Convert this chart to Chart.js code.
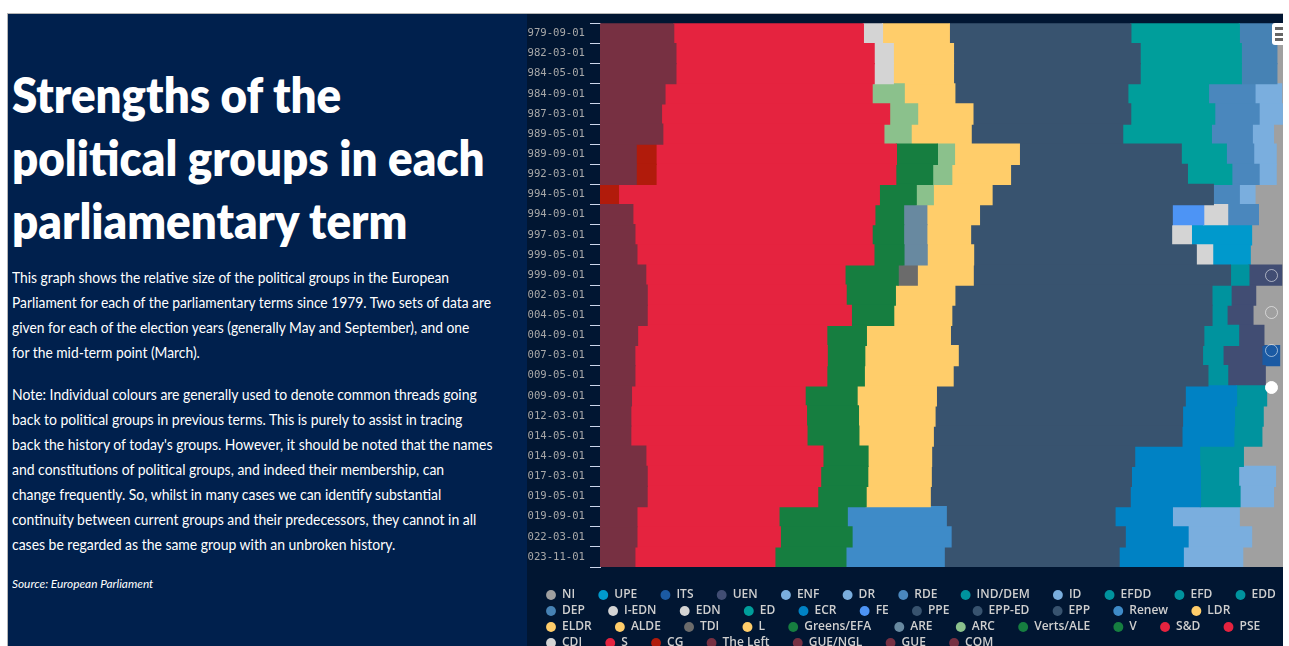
<!DOCTYPE html>
<html>
<head>
<meta charset="utf-8">
<title>Strengths of the political groups in each parliamentary term</title>
<script src="https://cdn.jsdelivr.net/npm/chart.js@4.4.1/dist/chart.umd.min.js"></script>
<style>
  html, body { margin: 0; padding: 0; }
  body { width: 1289px; height: 646px; overflow: hidden; position: relative; background: #fff; }
  #panel { position: absolute; left: 7px; top: 13px; width: 519px; height: 640px;
           background: #00204d; border-left: 1px solid #b5b5b5; border-top: 1px solid #b5b5b5; }
  #chartbox { position: absolute; left: 527px; top: 13px; width: 756px; height: 645px;
              background: #011632; border-top: 1px solid #b5b5b5; }
  #chartbox canvas { position: absolute; left: 0; top: -2px; }
  .txt { position: absolute; left: 12px; color: #fff; white-space: nowrap; transform-origin: 0 0;
         font-family: Lato, "Liberation Sans", sans-serif; }
  #title { top: 63px; font-size: 49px; font-weight: 800; line-height: 63px; }
  .body { font-size: 15px; line-height: 25px; }
  #p1 { top: 265px; }
  #p2 { top: 382px; }
  #source { top: 576px; font-size: 12px; line-height: 16px; font-style: italic; }
  #menu { position: absolute; left: 1272px; top: 23px; width: 11px; height: 22px; background: #fff; border-radius: 3px 0 0 3px; }
  #menu i { position: absolute; left: 3px; width: 8px; height: 3px; background: #666; }
  .dot { position: absolute; left: 1265px; width: 11px; height: 11px; border-radius: 50%;
         border: 1.5px solid rgba(255,255,255,0.55); }
  .dot.on { background: #fff; border-color: #fff; }
</style>
</head>
<body>
<div id="panel"></div>
<div class="txt" id="title" data-w="473">Strengths of the<br>political groups in each<br>parliamentary term</div>
<div class="txt body" id="p1" data-w="479">This graph shows the relative size of the political groups in the European<br>Parliament for each of the parliamentary terms since 1979. Two sets of data are<br>given for each of the election years (generally May and September), and one<br>for the mid-term point (March).</div>
<div class="txt body" id="p2" data-w="480">Note: Individual colours are generally used to denote common threads going<br>back to political groups in previous terms. This is purely to assist in tracing<br>back the history of today's groups. However, it should be noted that the names<br>and constitutions of political groups, and indeed their membership, can<br>change frequently. So, whilst in many cases we can identify substantial<br>continuity between current groups and their predecessors, they cannot in all<br>cases be regarded as the same group with an unbroken history.</div>
<div class="txt" id="source" data-w="141">Source: European Parliament</div>

<div id="chartbox"><canvas id="chart" width="756" height="647"></canvas></div>
<div id="menu"><i style="top:4px"></i><i style="top:10px"></i><i style="top:15px"></i></div>
<div class="dot" style="top:269px"></div>
<div class="dot" style="top:306px"></div>
<div class="dot" style="top:344px"></div>
<div class="dot on" style="top:381px"></div>

<script>
const _ = null;

const dates = ['1979-09-01', '1982-03-01', '1984-05-01', '1984-09-01', '1987-03-01', '1989-05-01',
  '1989-09-01', '1992-03-01', '1994-05-01', '1994-09-01', '1997-03-01', '1999-05-01', '1999-09-01',
  '2002-03-01', '2004-05-01', '2004-09-01', '2007-03-01', '2009-05-01', '2009-09-01', '2012-03-01',
  '2014-05-01', '2014-09-01', '2017-03-01', '2019-05-01', '2019-09-01', '2022-03-01', '2023-11-01'];

// share of seats (%) per group, one value per date
const COM        = [10.8, 11.1, 11.1, 9.5, 9.0, 9.2, _, _, _,   _, _, _, _, _, _, _, _, _,   _, _, _, _, _, _, _, _, _];
const GUE        = [_, _, _, _, _, _, 5.3, 5.3, _,   4.8, _, _, _, _, _, _, _, _,   _, _, _, _, _, _, _, _, _];
const GUE_NGL    = [_, _, _, _, _, _, _, _, _,   _, 5.1, 5.4, 6.7, 6.9, 6.9, 5.5, 5.1, 5.1,   4.6, 4.5, 4.5, 6.7, 6.9, 6.9, 5.4, _, _];
const THE_LEFT   = [_, _, _, _, _, _, _, _, _,   _, _, _, _, _, _, _, _, _,   _, _, _, _, _, _, _, 5.4, 5.1];
const CG         = [_, _, _, _, _, _, 2.9, 2.9, 2.7,   _, _, _, _, _, _, _, _, _,   _, _, _, _, _, _, _, _, _];
const S          = [27.8, 29.0, 29.0, 30.3, 33.4, 32.4, 35.2, 35.1, _,   _, _, _, _, _, _, _, _, _,   _, _, _, _, _, _, _, _, _];
const CDI        = [2.8, 2.8, 2.8, _, _, _, _, _, _,   _, _, _, _, _, _, _, _, _,   _, _, _, _, _, _, _, _, _];
const PSE        = [_, _, _, _, _, _, _, _, 38.2,   35.4, 34.7, 34.7, 29.2, 29.1, 29.9, 27.7, 28.2, 28.1,   _, _, _, _, _, _, _, _, _];
const S_D        = [_, _, _, _, _, _, _, _, _,   _, _, _, _, _, _, _, _, _,   25.4, 25.7, 25.8, 25.9, 25.4, 25.0, 20.8, 21.0, 20.5];
const V          = [_, _, _, _, _, _, 6.0, 5.4, 5.4,   4.2, 4.6, 4.4, _, _, _, _, _, _,   _, _, _, _, _, _, _, _, _];
const VERTS_ALE  = [_, _, _, _, _, _, _, _, _,   _, _, _, 7.8, 7.2, 6.2, 5.8, 5.5, 5.5,   _, _, _, _, _, _, _, _, _];
const ARC        = [_, _, _, 4.7, 4.1, 4.0, 2.5, 2.8, 2.5,   _, _, _, _, _, _, _, _, _,   _, _, _, _, _, _, _, _, _];
const ARE        = [_, _, _, _, _, _, _, _, _,   3.4, 3.4, 3.4, _, _, _, _, _, _,   _, _, _, _, _, _, _, _, _];
const GREENS_EFA = [_, _, _, _, _, _, _, _, _,   _, _, _, _, _, _, _, _, _,   7.6, 7.6, 7.6, 6.6, 6.9, 7.1, 10.0, 10.5, 10.4];
const L          = [9.8, 8.8, 8.8, _, _, _, _, _, _,   _, _, _, _, _, _, _, _, _,   _, _, _, _, _, _, _, _, _];
const TDI        = [_, _, _, _, _, _, _, _, _,   _, _, _, 2.8, _, _, _, _, _,   _, _, _, _, _, _, _, _, _];
const ALDE       = [_, _, _, _, _, _, _, _, _,   _, _, _, _, _, _, 12.3, 13.7, 13.0,   11.6, 11.2, 10.9, 9.3, 9.3, 9.4, _, _, _];
const ELDR       = [_, _, _, _, _, _, _, _, 8.6,   7.7, 6.4, 6.8, 8.2, 8.7, 8.5, _, _, _,   _, _, _, _, _, _, _, _, _];
const LDR        = [_, _, _, 7.4, 8.1, 8.8, 9.5, 8.6, _,   _, _, _, _, _, _, _, _, _,   _, _, _, _, _, _, _, _, _];
const RENEW      = [_, _, _, _, _, _, _, _, _,   _, _, _, _, _, _, _, _, _,   _, _, _, _, _, _, 14.5, 14.5, 14.4];
const EPP        = [_, _, _, _, _, _, _, _, _,   _, _, _, _, _, _, _, _, _,   36.4, 36.2, 36.4, 29.7, 29.3, 29.3, 24.7, 25.5, 25.6];
const EPP_ED     = [_, _, _, _, _, _, _, _, _,   _, _, _, 37.7, 37.6, 38.1, 37.1, 35.8, 37.3,   _, _, _, _, _, _, _, _, _];
const PPE        = [26.6, 27.3, 27.3, 25.3, 23.1, 22.2, 23.7, 25.9, 32.4,   28.2, 29.4, 32.6, _, _, _, _, _, _,   _, _, _, _, _, _, _, _, _];
const FE         = [_, _, _, _, _, _, _, _, _,   4.6, _, _, _, _, _, _, _, _,   _, _, _, _, _, _, _, _, _];
const ECR        = [_, _, _, _, _, _, _, _, _,   _, _, _, _, _, _, _, _, _,   7.5, 7.6, 7.6, 9.5, 10.1, 10.3, 8.4, 9.2, 9.4];
const ED         = [15.9, 14.8, 14.8, 11.8, 12.3, 13.0, 6.6, 6.5, _,   _, _, _, _, _, _, _, _, _,   _, _, _, _, _, _, _, _, _];
const EDN        = [_, _, _, _, _, _, _, _, _,   3.5, _, _, _, _, _, _, _, _,   _, _, _, _, _, _, _, _, _];
const I_EDN      = [_, _, _, _, _, _, _, _, _,   _, 2.9, 2.4, _, _, _, _, _, _,   _, _, _, _, _, _, _, _, _];
const DEP        = [5.5, 5.2, 5.2, _, _, _, _, _, _,   _, _, _, _, _, _, _, _, _,   _, _, _, _, _, _, _, _, _];
const EDD        = [_, _, _, _, _, _, _, _, _,   _, _, _, 2.7, 2.8, 2.2, _, _, _,   _, _, _, _, _, _, _, _, _];
const EFD        = [_, _, _, _, _, _, _, _, _,   _, _, _, _, _, _, _, _, _,   4.4, 4.2, 4.1, _, _, _, _, _, _];
const EFDD       = [_, _, _, _, _, _, _, _, _,   _, _, _, _, _, _, _, _, _,   _, _, _, 6.4, 5.6, 5.8, _, _, _];
const ID         = [_, _, _, _, _, _, _, _, _,   _, _, _, _, _, _, _, _, _,   _, _, _, _, _, _, 9.8, 9.3, 8.7];
const IND_DEM    = [_, _, _, _, _, _, _, _, _,   _, _, _, _, _, _, 5.1, 3.0, 2.9,   _, _, _, _, _, _, _, _, _];
const RDE        = [_, _, _, 6.8, 6.5, 6.0, 4.0, 4.0, 3.8,   4.5, _, _, _, _, _, _, _, _,   _, _, _, _, _, _, _, _, _];
const DR         = [_, _, _, 3.9, 3.4, 3.1, 3.3, 2.5, 2.3,   _, _, _, _, _, _, _, _, _,   _, _, _, _, _, _, _, _, _];
const ENF        = [_, _, _, _, _, _, _, _, _,   _, _, _, _, _, _, _, _, _,   _, _, _, _, 5.4, 4.9, _, _, _];
const UEN        = [_, _, _, _, _, _, _, _, _,   _, _, _, 4.8, 3.6, 3.8, 3.7, 5.7, 5.5,   _, _, _, _, _, _, _, _, _];
const ITS        = [_, _, _, _, _, _, _, _, _,   _, _, _, _, _, _, _, 2.6, _,   _, _, _, _, _, _, _, _, _];
const UPE        = [_, _, _, _, _, _, _, _, _,   _, 8.8, 5.5, _, _, _, _, _, _,   _, _, _, _, _, _, _, _, _];
const NI         = [0.9, 0.9, 0.9, 0.2, 0.1, 1.4, 1.0, 1.0, 4.1,   3.6, 4.6, 4.8, 0.2, 4.0, 4.4, 2.8, 0.5, 2.6,   2.4, 2.9, 3.1, 5.8, 1.1, 1.4, 6.4, 4.6, 5.9];

// stacking order, left to right (legend shows it reversed)
const series = [
  ['COM', COM, '#773042'], ['GUE', GUE, '#773042'], ['GUE/NGL', GUE_NGL, '#773042'],
  ['The Left', THE_LEFT, '#773042'], ['CG', CG, '#b11b0b'], ['S', S, '#e5233f'],
  ['CDI', CDI, '#d4d4d4'], ['PSE', PSE, '#e5233f'], ['S&D', S_D, '#e5233f'],
  ['V', V, '#167e40'], ['Verts/ALE', VERTS_ALE, '#167e40'], ['ARC', ARC, '#8bc18c'],
  ['ARE', ARE, '#6889a0'], ['Greens/EFA', GREENS_EFA, '#167e40'], ['L', L, '#ffcd6a'],
  ['TDI', TDI, '#6b6b6b'], ['ALDE', ALDE, '#ffcd6a'], ['ELDR', ELDR, '#ffcd6a'],
  ['LDR', LDR, '#ffcd6a'], ['Renew', RENEW, '#3e8bc8'], ['EPP', EPP, '#38536f'],
  ['EPP-ED', EPP_ED, '#38536f'], ['PPE', PPE, '#38536f'], ['FE', FE, '#4d94f5'],
  ['ECR', ECR, '#0082c4'], ['ED', ED, '#009e9b'], ['EDN', EDN, '#d4d4d4'],
  ['I-EDN', I_EDN, '#d4d4d4'], ['DEP', DEP, '#4682b4'], ['EDD', EDD, '#00939e'],
  ['EFD', EFD, '#00939e'], ['EFDD', EFDD, '#00939e'], ['ID', ID, '#7aaede'],
  ['IND/DEM', IND_DEM, '#00939e'], ['RDE', RDE, '#4a87bd'], ['DR', DR, '#7aaede'],
  ['ENF', ENF, '#7aaede'], ['UEN', UEN, '#414d73'], ['ITS', ITS, '#1b5aa3'],
  ['UPE', UPE, '#0099cc'], ['NI', NI, '#a0a0a0']
];

// last item of each legend row gets no extra spacing
const rowEnds = ['EDD', 'LDR', 'PSE', 'COM'];

// squeeze the side panel text to the widths it has in the original layout
document.querySelectorAll('[data-w]').forEach((el) => {
  el.style.transform = 'scaleX(' + (el.dataset.w / el.scrollWidth) + ')';
});

const totals = dates.map((d, i) => series.reduce((sum, s) => sum + (s[1][i] || 0), 0));

const datasets = series.map(([name, vals, colour]) => ({
  label: name,
  data: vals.map((v, i) => v == null ? null : v / totals[i] * 100),
  backgroundColor: colour,
  borderWidth: 0,
  inflateAmount: 0.6,
  barPercentage: 1,
  categoryPercentage: 1
}));

// y labels are clipped to the axis box; let them run to the canvas edge instead
const labelClip = {
  id: 'labelClip',
  afterLayout(chart) { chart.scales.y.left = -30; }
};

const ctx = document.getElementById('chart').getContext('2d');
new Chart(ctx, {
  type: 'bar',
  data: { labels: dates, datasets: datasets },
  plugins: [labelClip],
  options: {
    indexAxis: 'y',
    responsive: false,
    animation: false,
    events: [],
    layout: { padding: { left: 15, top: 8, right: 0, bottom: 0 } },
    scales: {
      x: {
        stacked: true, min: 0, max: 100,
        ticks: { display: false },
        grid: { display: false },
        border: { display: false },
        afterFit: (s) => { s.height = 18; }
      },
      y: {
        stacked: true,
        grid: { offset: true, drawOnChartArea: false, tickLength: 10, color: '#ccd6eb' },
        border: { color: '#ccd6eb' },
        ticks: { color: '#a8a8a8', padding: 5, autoSkip: false, font: { family: 'DejaVu Sans Mono', size: 10.6 } },
        afterFit: (s) => { s.width = 58; }
      }
    },
    plugins: {
      tooltip: { enabled: false },
      legend: {
        position: 'bottom',
        align: 'start',
        reverse: true,
        labels: {
          color: '#cfcfcf',
          usePointStyle: true,
          pointStyle: 'circle',
          boxWidth: 10,
          boxHeight: 7,
          padding: 4,
          font: { family: 'Open Sans', size: 12, weight: '600' },
          generateLabels: (chart) => {
            const items = Chart.defaults.plugins.legend.labels.generateLabels(chart);
            items.forEach((it) => {
              if (!rowEnds.includes(it.text)) it.text += '\u2003\u2002\u200A';
            });
            return items;
          }
        }
      }
    }
  }
});
</script>
</body>
</html>
